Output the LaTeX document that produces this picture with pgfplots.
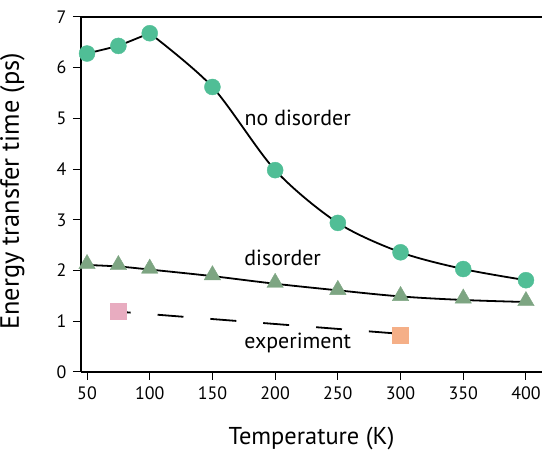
\documentclass[border=0pt]{standalone}
\usepackage{pgfplots}
\pgfplotsset{compat=1.18}
\usepackage{fontspec}
\setmainfont{PT Sans}
\definecolor{cNo}{RGB}{80,190,150}
\definecolor{cDis}{RGB}{125,165,130}
\definecolor{cPink}{RGB}{232,172,192}
\definecolor{cOrange}{RGB}{245,175,135}
\begin{document}
\begin{tikzpicture}
\begin{axis}[
  scale only axis, width=461bp, height=355bp,
  xmin=45.2, xmax=412.8, ymin=0, ymax=7,
  axis x line*=box, axis y line*=left,
  xtick={50,100,...,400}, ytick={0,1,...,7},
  tick align=outside, major tick length=8bp,
  xtick pos=bottom, ytick pos=left,
  axis line style={line width=1.6bp},
  tick style={line width=1bp, black},
  /pgf/number format/assume math mode=true,
  tick label style={font=\fontsize{18}{20}\selectfont},
  xticklabel style={yshift=-3bp},
  yticklabel style={xshift=-3bp},
  xlabel={Temperature (K)}, ylabel={Energy transfer time (ps)},
  xlabel style={font=\fontsize{24.5}{26}\selectfont, at={([yshift=-73bp]axis description cs:0.5,0)}, anchor=base},
  ylabel style={font=\fontsize{26.5}{28}\selectfont, at={([xshift=-62bp,yshift=3bp]axis description cs:0,0.5)}, anchor=base},
  clip=false,
]
% no disorder curve
\addplot[black, line width=1.8bp, no marks] coordinates {
 (50,6.28) (75,6.43) (100,6.68)};
\addplot[black, line width=1.8bp, smooth, tension=0.5, no marks] coordinates {
 (100,6.68) (150,5.62) (200,3.98) (250,2.94) (300,2.36) (350,2.03) (400,1.81)};
\addplot[only marks, mark=*, mark size=8bp, mark options={fill=cNo, draw=cNo}] coordinates {
 (50,6.28) (75,6.43) (100,6.68) (150,5.62) (200,3.98) (250,2.94) (300,2.36) (350,2.03) (400,1.81)};
% disorder curve
\addplot[black, line width=1.8bp, smooth, tension=0.6, no marks] coordinates {
 (50,2.11) (75,2.08) (100,2.02) (150,1.89) (200,1.74) (250,1.61) (300,1.49) (350,1.42) (400,1.38)};
\addplot[only marks, mark=triangle*, mark size=9.5bp, mark options={fill=cDis, draw=cDis}] coordinates {
 (50,2.13) (75,2.11) (100,2.04) (150,1.91) (200,1.76) (250,1.62) (300,1.50) (350,1.45) (400,1.40)};
% experiment
\addplot[black, line width=1.8bp, dash pattern=on 26bp off 27bp, dash phase=20bp, no marks] coordinates {
 (80,1.18) (296,0.76)};
\addplot[only marks, mark=square*, mark size=8bp, mark options={fill=cPink, draw=cPink}] coordinates {(75,1.19)};
\addplot[only marks, mark=square*, mark size=8bp, mark options={fill=cOrange, draw=cOrange}] coordinates {(300,0.73)};
\node[font=\fontsize{22}{24}\selectfont] at (axis cs:218,5.01) {no disorder};
\node[font=\fontsize{22}{24}\selectfont] at (axis cs:206,2.25) {disorder};
\node[font=\fontsize{22}{24}\selectfont] at (axis cs:218,0.57) {experiment};
\end{axis}
\pgfresetboundingbox
\useasboundingbox ([xshift=-81bp,yshift=-79bp]current axis.south west) rectangle ([yshift=17bp]current axis.north east);
\end{tikzpicture}
\end{document}
